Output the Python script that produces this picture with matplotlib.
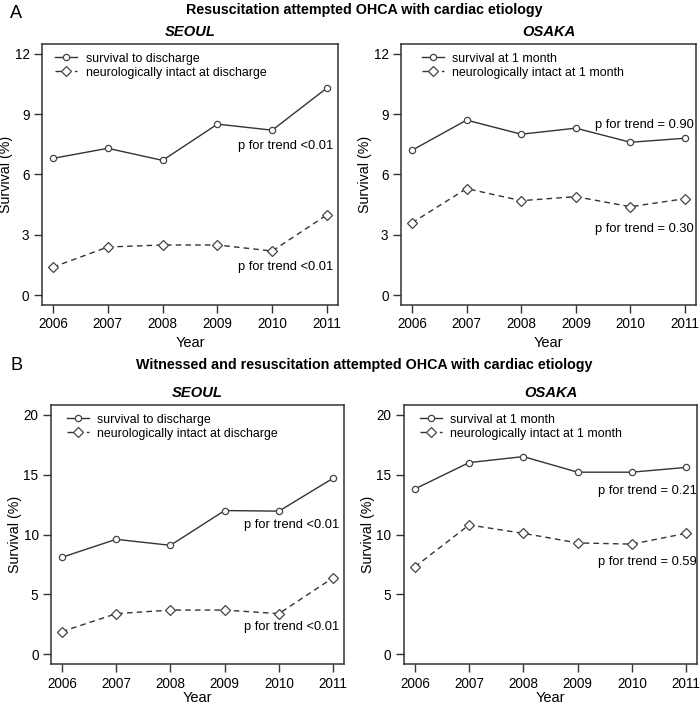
import matplotlib
matplotlib.use("Agg")
import matplotlib.pyplot as plt
from matplotlib import font_manager

# the reference text is narrow; use the narrow face if it is installed
names = {f.name for f in font_manager.fontManager.ttflist}
narrow = 'Liberation Sans Narrow' in names
plt.rcParams['font.family'] = ['Liberation Sans Narrow' if narrow else 'Liberation Sans', 'DejaVu Sans']
k = 1.05 if narrow else 0.93

years = [2006, 2007, 2008, 2009, 2010, 2011]

# panel A: resuscitation attempted
a_seoul_surv = [6.8, 7.3, 6.7, 8.5, 8.2, 10.3]
a_seoul_neuro = [1.4, 2.4, 2.5, 2.5, 2.2, 4.0]
a_osaka_surv = [7.2, 8.7, 8.0, 8.3, 7.6, 7.8]
a_osaka_neuro = [3.6, 5.3, 4.7, 4.9, 4.4, 4.8]

# panel B: witnessed and resuscitation attempted
b_seoul_surv = [8.1, 9.6, 9.1, 12.0, 11.95, 14.7]
b_seoul_neuro = [1.9, 3.4, 3.7, 3.7, 3.4, 6.4]
b_osaka_surv = [13.8, 16.0, 16.5, 15.2, 15.2, 15.6]
b_osaka_neuro = [7.3, 10.8, 10.1, 9.3, 9.2, 10.1]

seoul_labels = ["survival to discharge", "neurologically intact at discharge"]
osaka_labels = ["survival at 1 month", "neurologically intact at 1 month"]

line_col = "#333333"


def panel(ax, surv, neuro, labels, ymax, yticks, ptexts, name, leg_x, xpad=3):
    ax.plot(years, surv, '-', color=line_col, lw=1.0, marker='o', ms=4.5,
            mfc='white', mec='#444444', mew=0.9, label=labels[0])
    ax.plot(years, neuro, color=line_col, lw=1.0, dashes=(4, 3), marker='D', ms=5.5,
            mfc='white', mec='#444444', mew=0.9, label=labels[1])
    pad_x = 0.04 * 5
    pad_y = 0.04 * ymax
    ax.set_xlim(years[0] - pad_x, years[-1] + pad_x)
    ax.set_ylim(-pad_y, ymax + pad_y)
    ax.set_xticks(years)
    ax.set_yticks(yticks)
    ax.tick_params(direction='out', length=6, width=1, labelsize=10.5 * k, pad=3, color='#333333')
    for s in ax.spines.values():
        s.set_linewidth(1.1)
        s.set_color('#333333')
    ax.set_xlabel("Year", fontsize=11.3 * k, labelpad=xpad)
    ax.set_ylabel("Survival (%)", fontsize=11 * k, labelpad=1)
    ax.set_title(name, fontsize=11.4 * k, fontweight='bold', style='italic', pad=6)
    for (tx, ty, t) in ptexts:
        ax.text(tx, ty, t, fontsize=10 * k, va='center', ha='left')
    ax.legend(loc='upper left', frameon=False, fontsize=9.6 * k, numpoints=1,
              handlelength=1.8, handletextpad=0.65, labelspacing=0.15,
              borderaxespad=0.3, bbox_to_anchor=(leg_x, 1.0))


fig = plt.figure(figsize=(7.0, 7.07), dpi=100)

ax1 = fig.add_axes([0.06, 0.5686, 0.4229, 0.3692])
ax2 = fig.add_axes([0.5729, 0.5686, 0.4214, 0.3692])
ax3 = fig.add_axes([0.0729, 0.0608, 0.4186, 0.3663])
ax4 = fig.add_axes([0.5771, 0.0608, 0.4186, 0.3663])

panel(ax1, a_seoul_surv, a_seoul_neuro, seoul_labels, 12, [0, 3, 6, 9, 12],
      [(2009.37, 7.42, "p for trend <0.01"), (2009.37, 1.41, "p for trend <0.01")], "SEOUL", 0.015)
panel(ax2, a_osaka_surv, a_osaka_neuro, osaka_labels, 12, [0, 3, 6, 9, 12],
      [(2009.36, 8.44, "p for trend = 0.90"), (2009.36, 3.31, "p for trend = 0.30")], "OSAKA", 0.04)
panel(ax3, b_seoul_surv, b_seoul_neuro, seoul_labels, 20, [0, 5, 10, 15, 20],
      [(2009.36, 10.8, "p for trend <0.01"), (2009.36, 2.3, "p for trend <0.01")], "SEOUL", 0.025, xpad=0)
panel(ax4, b_osaka_surv, b_osaka_neuro, osaka_labels, 20, [0, 5, 10, 15, 20],
      [(2009.37, 13.65, "p for trend = 0.21"), (2009.37, 7.7, "p for trend = 0.59")], "OSAKA", 0.025, xpad=0)

fig.text(10 / 700, 1 - 14 / 707, "A", fontsize=14 * k, va='center', ha='left')
fig.text(0.52, 1 - 10 / 707, "Resuscitation attempted OHCA with cardiac etiology",
         fontsize=11 * k, fontweight='bold', va='center', ha='center')
fig.text(10 / 700, 1 - 366 / 707, "B", fontsize=14 * k, va='center', ha='left')
fig.text(0.52, 1 - 365 / 707, "Witnessed and resuscitation attempted OHCA with cardiac etiology",
         fontsize=11 * k, fontweight='bold', va='center', ha='center')

fig.savefig("out.png", dpi=100)
